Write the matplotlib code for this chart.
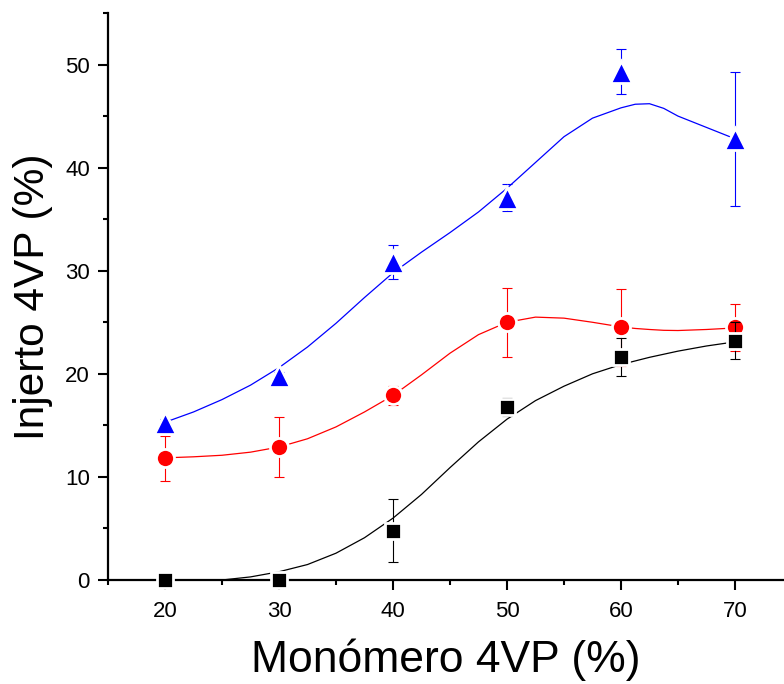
import numpy as np
import matplotlib
matplotlib.use('Agg')
import matplotlib.pyplot as plt
from matplotlib.ticker import MultipleLocator

plt.rcParams['font.family'] = ['Liberation Sans', 'DejaVu Sans']

# monómero 4VP (%) y injerto medido
monomero = [20, 30, 40, 50, 60, 70]

injerto_neg = [0.0, 0.0, 4.8, 16.8, 21.6, 23.2]
err_neg = [0.0, 0.0, 3.1, 0.9, 1.85, 1.8]

injerto_rojo = [11.8, 12.9, 17.9, 25.0, 24.5, 24.5]
err_rojo = [2.2, 2.9, 0.9, 3.35, 3.75, 2.3]

injerto_azul = [15.2, 19.8, 30.8, 37.1, 49.3, 42.8]
err_azul = [0.4, 0.4, 1.65, 1.3, 2.2, 6.5]

# curvas de ajuste
curva_x = [20, 22.5, 25, 27.5, 30, 32.5, 35, 37.5, 40, 42.5, 45,
           47.5, 50, 52.5, 55, 57.5, 60, 61.25, 62.5, 63.75, 65, 67.5, 70]
curva_neg = [-0.3, -0.2, 0.0, 0.3, 0.8, 1.5, 2.6, 4.1, 6.0, 8.3, 10.9,
             13.4, 15.6, 17.4, 18.8, 20.0, 20.9, 21.25, 21.6, 21.9, 22.2, 22.7, 23.1]
curva_rojo = [11.85, 11.95, 12.1, 12.4, 12.9, 13.7, 14.85, 16.3, 17.9, 19.9, 22.0,
              23.8, 25.0, 25.5, 25.4, 25.0, 24.55, 24.4, 24.3, 24.22, 24.2, 24.3, 24.45]
curva_azul = [15.3, 16.3, 17.5, 18.9, 20.6, 22.6, 24.9, 27.4, 29.8, 31.8, 33.7,
              35.7, 38.0, 40.5, 43.0, 44.8, 45.8, 46.15, 46.2, 45.75, 45.0, 43.9, 42.8]

series = [
    (injerto_rojo, err_rojo, curva_rojo, 'red', 'o', 13.0, 2),
    (injerto_neg, err_neg, curva_neg, 'black', 's', 11.0, 3),
    (injerto_azul, err_azul, curva_azul, 'blue', '^', 16.0, 4),
]

fig = plt.figure(figsize=(7.84, 6.84), dpi=100)
ax = fig.add_axes([108 / 784, 104 / 684, 676 / 784, 567 / 684])

for y, e, curva, color, mk, ms, z in series:
    ax.plot(curva_x, curva, color=color, lw=0.9, zorder=z)
    ax.errorbar(monomero, y, yerr=e, fmt='none', ecolor=color, elinewidth=0.8,
                capsize=3.8, capthick=0.8, zorder=z)
    ax.plot(monomero, y, linestyle='none', marker=mk, ms=ms, mfc=color,
            mec='white', mew=2.0, zorder=z + 0.5, clip_on=False)

ax.set_xlim(15, 74.3)
ax.set_ylim(0, 55)
ax.xaxis.set_major_locator(MultipleLocator(10))
ax.xaxis.set_minor_locator(MultipleLocator(5))
ax.yaxis.set_major_locator(MultipleLocator(10))
ax.yaxis.set_minor_locator(MultipleLocator(5))

for s in ['top', 'right']:
    ax.spines[s].set_visible(False)
for s in ['left', 'bottom']:
    ax.spines[s].set_linewidth(1.6)

ax.tick_params(which='major', length=7, width=1.5, labelsize=16, direction='out')
ax.tick_params(which='minor', length=3.5, width=1.5, direction='out')
ax.tick_params(axis='x', which='major', pad=8)
ax.tick_params(axis='y', which='major', pad=6)

ax.set_xlabel('Monómero 4VP (%)', fontsize=32, labelpad=12)
ax.set_ylabel('Injerto 4VP (%)', fontsize=30.5, labelpad=9)

fig.savefig('out.png', dpi=100)
